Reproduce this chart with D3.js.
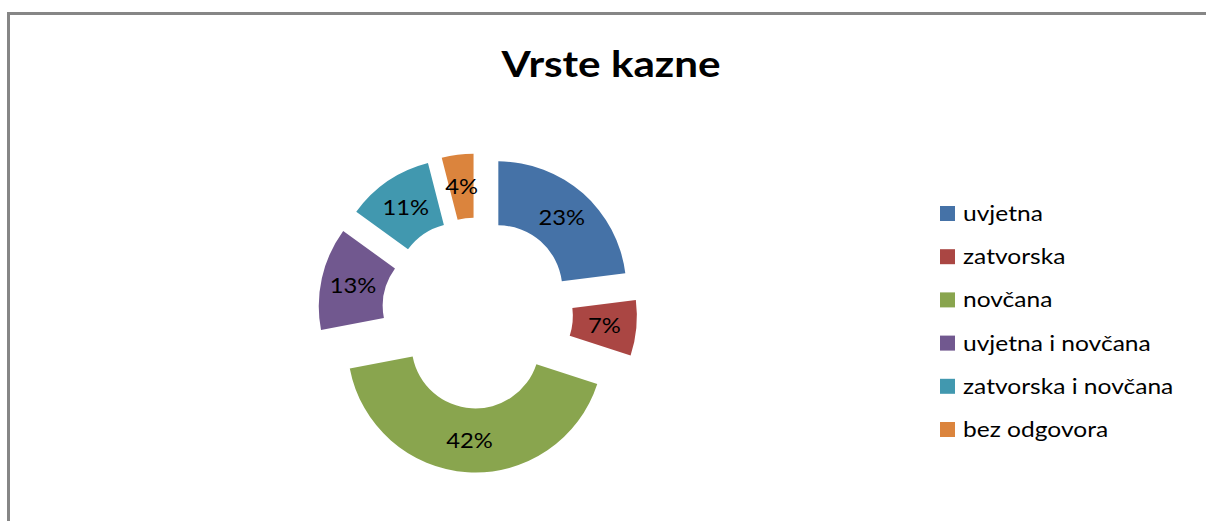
<!DOCTYPE html>
<html>
<head>
<meta charset="utf-8">
<script src="https://cdnjs.cloudflare.com/ajax/libs/d3/7.8.5/d3.min.js"></script>
<style>
  html, body { margin: 0; padding: 0; background: #ffffff; }
  svg { display: block; }
</style>
</head>
<body>
<svg id="chart" width="1206" height="521"></svg>
<script>
const title = "Vrste kazne";
const categories = ["uvjetna", "zatvorska", "novčana", "uvjetna i novčana", "zatvorska i novčana", "bez odgovora"];
const values = [23, 7, 42, 13, 11, 4];
const colors = ["#4572A7", "#AA4643", "#89A54E", "#71588F", "#4198AF", "#DB843D"];

const svg = d3.select("#chart");
const FONT = "Lato, 'Open Sans', sans-serif";

// chart border
svg.append("rect")
  .attr("x", 8.5).attr("y", 13.5)
  .attr("width", 1210).attr("height", 530)
  .attr("fill", "#ffffff")
  .attr("stroke", "#868686")
  .attr("stroke-width", 3);

// title
svg.append("g")
  .attr("transform", "translate(611,77) scale(1.14,1)")
  .append("text")
  .attr("text-anchor", "middle")
  .attr("font-family", FONT)
  .attr("font-weight", "bold")
  .attr("font-size", 37)
  .attr("fill", "#000")
  .text(title);

// donut
const cx = 477.5, cy = 313, R = 128, r = 64, explode = 31.5;
const total = d3.sum(values);
const pie = d3.pie().sort(null).value(d => d.v);
const data = pie(values.map((v, i) => ({ v, i })));
const arc = d3.arc().innerRadius(r).outerRadius(R);
const color = d3.scaleOrdinal().domain(categories).range(colors);
const pct = d3.format(".0%");

const g = svg.append("g").attr("transform", `translate(${cx},${cy})`);
const slices = g.selectAll("g.slice").data(data).enter().append("g")
  .attr("class", "slice")
  .attr("transform", d => {
    const a = (d.startAngle + d.endAngle) / 2;
    return `translate(${explode * Math.sin(a)},${-explode * Math.cos(a)})`;
  });
slices.append("path")
  .attr("d", arc)
  .attr("fill", d => color(categories[d.data.i]));
slices.append("g")
  .attr("transform", d => `translate(${arc.centroid(d)}) scale(1.08,1)`)
  .append("text")
  .attr("text-anchor", "middle")
  .attr("dy", "0.36em")
  .attr("font-family", FONT)
  .attr("font-size", 22)
  .attr("fill", "#000")
  .text(d => pct(d.data.v / total));

// legend
const legX = 940, legY0 = 213.5, legStep = 43.2;
const leg = svg.append("g");
const items = leg.selectAll("g").data(categories).enter().append("g")
  .attr("transform", (d, i) => `translate(${legX},${legY0 + i * legStep})`);
items.append("rect")
  .attr("x", 0).attr("y", -7.5)
  .attr("width", 15).attr("height", 15)
  .attr("fill", d => color(d));
items.append("g")
  .attr("transform", "translate(23,7.5) scale(1.17,1)")
  .append("text")
  .attr("font-family", FONT)
  .attr("font-size", 21)
  .attr("fill", "#000")
  .text(d => d);
</script>
</body>
</html>
